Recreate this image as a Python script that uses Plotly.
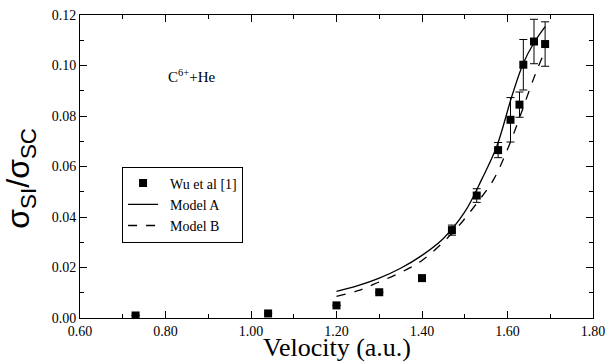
import plotly.graph_objects as go

# Experimental data (Wu et al [1])
exp_x = [0.73, 1.04, 1.20, 1.30, 1.40, 1.47, 1.528, 1.578, 1.607, 1.628, 1.637, 1.662, 1.688]
exp_y = [0.001, 0.0018, 0.005, 0.0102, 0.0158, 0.0348, 0.0485, 0.0665, 0.0785, 0.0845, 0.1003, 0.1095, 0.1085]
exp_err = [0, 0, 0, 0, 0, 0.002, 0.0027, 0.003, 0.0088, 0.005, 0.010, 0.0088, 0.0088]

# Model A (solid)
a_x = [1.20, 1.25, 1.30, 1.35, 1.40, 1.45, 1.50, 1.54, 1.575, 1.61, 1.637, 1.662, 1.688]
a_y = [0.0105, 0.0128, 0.0158, 0.0197, 0.0248, 0.0315, 0.042, 0.055, 0.068, 0.0877, 0.1009, 0.109, 0.1154]

# Model B (dashed)
b_x = [1.20, 1.25, 1.30, 1.35, 1.40, 1.47, 1.528, 1.567, 1.60, 1.629, 1.66, 1.688]
b_y = [0.0086, 0.0108, 0.0143, 0.018, 0.0228, 0.0335, 0.0454, 0.0547, 0.0668, 0.0797, 0.0943, 0.1061]

x_ticks = [0.6, 0.8, 1.0, 1.2, 1.4, 1.6, 1.8]
x_labels = ["0.60", "0.80", "1.00", "1.20", "1.40", "1.60", "1.80"]
y_ticks = [0.0, 0.02, 0.04, 0.06, 0.08, 0.10, 0.12]
y_labels = ["0.00", "0.02", "0.04", "0.06", "0.08", "0.10", "0.12"]

serif = "Liberation Serif, Times New Roman, serif"
sans = "Liberation Sans, Arial, sans-serif"
pad = "\u00a0\u00a0"

fig = go.Figure()
fig.add_trace(go.Scatter(
    x=exp_x, y=exp_y, mode="markers", name=pad + "Wu et al [1]",
    marker=dict(symbol="square", size=8, color="black"),
    error_y=dict(type="data", array=exp_err, visible=True, color="black", thickness=1, width=4),
))
fig.add_trace(go.Scatter(
    x=a_x, y=a_y, mode="lines", name=pad + "Model A", line=dict(color="black", width=1.3, shape="spline"),
))
fig.add_trace(go.Scatter(
    x=b_x, y=b_y, mode="lines", name=pad + "Model B", line=dict(color="black", width=1.3, dash="dash", shape="spline"),
))

axis_common = dict(
    showline=True, linecolor="black", linewidth=1, mirror="ticks",
    ticks="inside", ticklen=7, tickcolor="black", showgrid=False, zeroline=False,
    automargin=False,
    tickfont=dict(family=serif, size=14, color="black"),
)
fig.update_xaxes(range=[0.6, 1.8], tickvals=x_ticks, ticktext=x_labels,
                 minor=dict(ticks="inside", dtick=0.1, tick0=0.6, ticklen=4, tickcolor="black"),
                 **axis_common)
fig.update_yaxes(range=[0.0, 0.12], tickvals=y_ticks, ticktext=y_labels,
                 minor=dict(ticks="inside", dtick=0.01, tick0=0, ticklen=4, tickcolor="black"),
                 **axis_common)

fig.add_annotation(x=0.5, y=-0.097, xref="paper", yref="paper", yanchor="middle", showarrow=False,
                   text="Velocity (a.u.)", font=dict(family=serif, size=26, color="black"))
fig.add_annotation(x=-0.115, y=0.46, xref="paper", yref="paper", xanchor="center", yanchor="middle",
                   showarrow=False, textangle=-90, text="σ<sub>SI</sub>/σ<sub>SC</sub>",
                   font=dict(family=sans, size=32, color="black"))
fig.add_annotation(x=0.80, y=0.096, xref="x", yref="y", xanchor="left", yanchor="middle", showarrow=False,
                   text="C<sup>6+</sup>+He", font=dict(family=serif, size=15, color="black"))

fig.update_layout(
    width=606, height=362,
    margin=dict(l=80, r=13, t=15, b=44),
    paper_bgcolor="white", plot_bgcolor="white",
    showlegend=True,
    legend=dict(x=0.082, y=0.5, xanchor="left", yanchor="top",
                bgcolor="white", bordercolor="black", borderwidth=1,
                font=dict(family=serif, size=14, color="black"),
                itemwidth=30, tracegroupgap=0),
)

fig.write_html("out.html", config={"displayModeBar": False},
               post_script="document.body.style.margin='0';document.body.style.overflow='hidden';")
